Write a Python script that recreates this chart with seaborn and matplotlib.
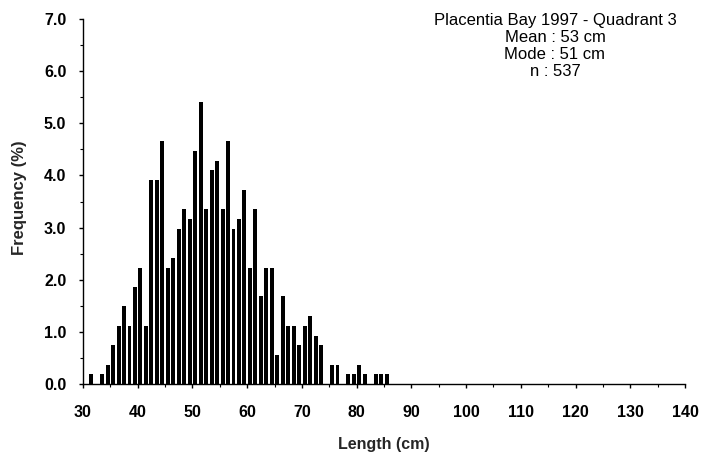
import matplotlib
matplotlib.use("Agg")
import matplotlib.pyplot as plt
from matplotlib.ticker import MultipleLocator, FormatStrFormatter
import seaborn as sns
import pandas as pd

# Length classes (cm) and frequency (%)
lengths = [31, 33, 34, 35, 36, 37, 38, 39, 40, 41, 42, 43, 44, 45, 46, 47, 48, 49,
           50, 51, 52, 53, 54, 55, 56, 57, 58, 59, 60, 61, 62, 63, 64, 65, 66, 67,
           68, 69, 70, 71, 72, 73, 75, 76, 78, 79, 80, 81, 83, 84, 85]
frequency = [0.19, 0.19, 0.37, 0.74, 1.12, 1.49, 1.12, 1.86, 2.23, 1.12, 3.91, 3.91,
             4.66, 2.23, 2.42, 2.98, 3.35, 3.17, 4.47, 5.40, 3.35, 4.10, 4.28, 3.35,
             4.66, 2.98, 3.17, 3.72, 2.23, 3.35, 1.68, 2.23, 2.23, 0.56, 1.68, 1.12,
             1.12, 0.74, 1.12, 1.30, 0.93, 0.74, 0.37, 0.37, 0.19, 0.19, 0.37, 0.19,
             0.19, 0.19, 0.19]
info_lines = ["Placentia Bay 1997 - Quadrant 3", "Mean : 53 cm", "Mode : 51 cm", "n : 537"]

df = pd.DataFrame({"length": lengths, "freq": frequency})
df["mid"] = df["length"] + 0.5  # bin midpoints

sns.set_theme(style="ticks")
plt.rcParams["font.family"] = ["Liberation Sans", "DejaVu Sans"]

fig = plt.figure(figsize=(7.04, 4.57), dpi=100)
ax = fig.add_axes([83 / 704, 1 - 384 / 457, 602 / 704, 365 / 457])

sns.barplot(data=df, x="mid", y="freq", native_scale=True, color="black",
            saturation=1, width=0.72, edgecolor="black", linewidth=0, ax=ax)

ax.set_xlim(30, 140)
ax.set_ylim(0, 7)
ax.xaxis.set_major_locator(MultipleLocator(10))
ax.xaxis.set_minor_locator(MultipleLocator(5))
ax.yaxis.set_major_locator(MultipleLocator(1))
ax.yaxis.set_minor_locator(MultipleLocator(0.5))
ax.yaxis.set_major_formatter(FormatStrFormatter("%.1f"))

for s in ["top", "right"]:
    ax.spines[s].set_visible(False)
for s in ["left", "bottom"]:
    ax.spines[s].set_color("black")
    ax.spines[s].set_linewidth(1.0)

ax.tick_params(axis="both", which="major", direction="out", length=3, width=1,
               color="black", labelsize=11.5, labelcolor="black")
ax.tick_params(axis="both", which="minor", direction="out", length=2, width=0.8,
               color="black")
ax.tick_params(axis="x", which="major", pad=12)
ax.tick_params(axis="y", which="major", pad=9)
for lab in ax.get_xticklabels() + ax.get_yticklabels():
    lab.set_fontweight("bold")

ax.set_xlabel("Length (cm)", fontsize=11.5, fontweight="bold")
ax.set_ylabel("Frequency (%)", fontsize=12, fontweight="bold")
ax.xaxis.set_label_coords(0.5, -0.145)
ax.yaxis.set_label_coords(-0.093, 0.51)
ax.grid(False)

baselines = [25, 42, 59, 76]
for line, b in zip(info_lines, baselines):
    fig.text(555 / 704, 1 - b / 457, line, ha="center", va="baseline",
             fontsize=12, color="black")

fig.savefig("out.png", dpi=100, facecolor="white")
